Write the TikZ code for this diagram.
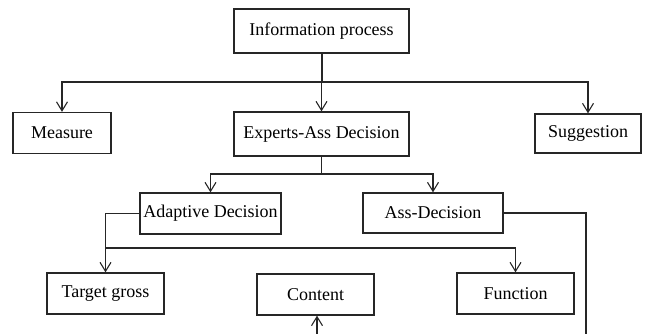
\documentclass[tikz,border=0pt]{standalone}
\usepackage{fontspec}
\setmainfont{Liberation Serif}
\usetikzlibrary{arrows.meta}
\usetikzlibrary{calc}
\tikzset{
	>={Straight Barb[length=9pt,width=11pt]},
	block/.style={
		rectangle,
		draw=black!85, line width=1.3pt,
		minimum width=#1,
		minimum height=41pt,
		inner sep=2pt,
		text centered},
	block/.default=117pt,
	line/.style={draw, line width=1.1pt, black!85},
	trunk/.style={draw, line width=2pt, black!85},
}

\begin{document}
\begin{tikzpicture}
	[x=1pt, y=-1pt,
	font=\fontsize{18}{21}\selectfont]
	\useasboundingbox (0,0) rectangle (645,334);
	% first two levels
	\node[block=175pt, minimum height=44pt] (info) at (321.5,31) {Information process};
	\node[block=98pt] (measure) at (62,133) {Measure};
	\node[block=175pt, minimum height=44pt] (experts) at (321.5,134) {Experts-Ass Decision};
	\node[block=106pt, minimum height=39pt] (suggestion) at (588,133.5) {Suggestion};
	% decisions
	\node[block=141pt] (adaptive) at (210.5,213.5) {Adaptive Decision};
	\node[block=140pt, minimum height=40pt] (assdec) at (433,213) {Ass-Decision};
	% bottom row
	\node[block] (target) at (105.5,293.5) {Target gross};
	\node[block] (content) at (315.5,294.5) {Content};
	\node[block] (function) at (515.5,293.5) {Function};

	\coordinate (split) at (321.5,82);
	\coordinate (split2) at (321.5,174);
	\coordinate (split3) at (105.5,248);
	\coordinate (exitA) at (586,334);
	\coordinate (inC) at (317,334);

	\draw[trunk] (info.south) -- (split);
	\draw[line,->] (split) -- (experts);
	\draw[line,->] (split) -| (measure);
	\draw[line,->] (split) -| (suggestion);

	\draw[line] (experts) -- (split2);
	\draw[line,->] (split2) -| (adaptive);
	\draw[line,->] (split2) -| (assdec);

	\draw[line] (adaptive.west) -| (split3);
	\draw[line,->] (split3) -- (target);
	\draw[line,->] (split3) -| (function);

	\draw[line] (assdec.east) -| (exitA);
	\draw[line,->] (inC) -- (inC |- content.south);
\end{tikzpicture}
\end{document}
